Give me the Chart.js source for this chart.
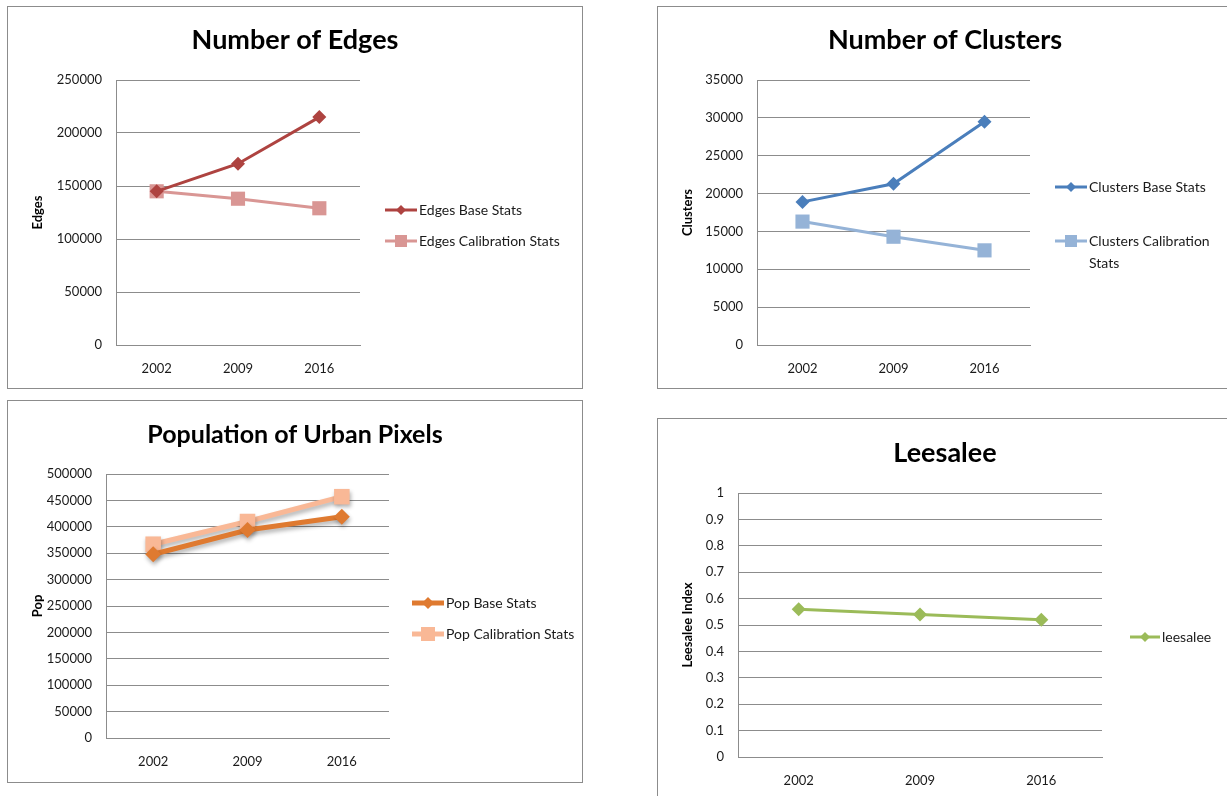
<!DOCTYPE html>
<html>
<head>
<meta charset="utf-8">
<script src="https://cdn.jsdelivr.net/npm/chart.js@4/dist/chart.umd.min.js"></script>
<style>
    html, body { margin: 0; padding: 0; background: #fff; overflow: hidden; }
    body { width: 1227px; height: 796px; position: relative; }
    .panel { position: absolute; width: 574px; height: 381px; border: 1px solid #8c8c8c; background: #fff; }
    .panel canvas { display: block; }
</style>
</head>
<body>
<div class="panel" style="left:7px; top:6px;"><canvas id="edges-chart" width="574" height="381"></canvas></div>
<div class="panel" style="left:657px; top:6px;"><canvas id="clusters-chart" width="574" height="381"></canvas></div>
<div class="panel" style="left:7px; top:400px;"><canvas id="pop-chart" width="574" height="381"></canvas></div>
<div class="panel" style="left:657px; top:418px;"><canvas id="leesalee-chart" width="574" height="381"></canvas></div>

<script>
// ===== Data =====
const years = ['2002', '2009', '2016'];

const edgesBase = [145000, 171000, 215000];
const edgesCalibration = [145000, 138000, 129000];

const clustersBase = [18900, 21300, 29500];
const clustersCalibration = [16300, 14300, 12500];

const popBase = [348000, 394000, 419000];
const popCalibration = [367000, 410000, 457000];

const leesaleeValues = [0.56, 0.54, 0.52];

const FONT = "Lato, 'Open Sans', sans-serif";
const GRID_COLOR = '#8c8c8c';

// Legend ala Excel: garis pendek + marker di tengah, teks di kanan
const excelLegend = {
    id: 'excelLegend',
    afterDraw(chart, args, opts) {
        const ctx = chart.ctx;
        ctx.save();
        chart.data.datasets.forEach((ds, i) => {
            const y = opts.ys[i];
            const x0 = opts.x;
            const x1 = opts.x + opts.lineLen;
            const cx = (x0 + x1) / 2;
            ctx.strokeStyle = ds.borderColor;
            ctx.lineWidth = ds.borderWidth;
            ctx.beginPath();
            ctx.moveTo(x0, y);
            ctx.lineTo(x1, y);
            ctx.stroke();

            // marker legend (sedikit lebih kecil dari marker data)
            ctx.fillStyle = ds.pointBackgroundColor;
            ctx.beginPath();
            const r = opts.markerRadius[i];
            if (ds.pointStyle === 'rect') {
                ctx.rect(cx - r, y - r, 2 * r, 2 * r);
            } else {
                ctx.moveTo(cx - r, y);
                ctx.lineTo(cx, y - r);
                ctx.lineTo(cx + r, y);
                ctx.lineTo(cx, y + r);
                ctx.closePath();
            }
            ctx.fill();

            ctx.fillStyle = '#1a1a1a';
            ctx.font = `14px ${FONT}`;
            ctx.textBaseline = 'middle';
            ctx.textAlign = 'left';
            opts.lines[i].forEach((txt, k) => {
                ctx.fillText(txt, x1 + 2, y + k * 22);
            });
        });
        ctx.restore();
    }
};

// Bayangan halus untuk chart populasi
const lineShadow = {
    id: 'lineShadow',
    beforeDatasetsDraw(chart, args, opts) {
        if (!opts.enabled) return;
        const ctx = chart.ctx;
        ctx.save();
        ctx.shadowColor = 'rgba(0, 0, 0, 0.3)';
        ctx.shadowBlur = 4;
        ctx.shadowOffsetX = 1;
        ctx.shadowOffsetY = 3;
    },
    afterDatasetsDraw(chart, args, opts) {
        if (!opts.enabled) return;
        chart.ctx.restore();
    }
};

function makeSeries(label, data, color, style, lineWidth, radius) {
    return {
        label: label,
        data: data,
        yAxisID: 'y',
        borderColor: color,
        backgroundColor: color,
        pointBackgroundColor: color,
        pointBorderColor: color,
        borderWidth: lineWidth,
        pointStyle: style,
        pointRadius: radius,
        pointBorderWidth: 0,
        tension: 0,
        fill: false
    };
}

function makeChart(id, cfg) {
    const W = 574, H = 381;
    const xAxisHeight = 32;
    const titleSize = cfg.titleSize || 27;
    const half = titleSize * 1.2 / 2;
    return new Chart(document.getElementById(id), {
        type: 'line',
        data: { labels: years, datasets: cfg.datasets },
        options: {
            responsive: false,
            animation: false,
            events: [],
            layout: {
                padding: { left: 0, top: 0, right: 0, bottom: H - cfg.area.bottom - xAxisHeight }
            },
            plugins: {
                legend: { display: false },
                tooltip: { enabled: false },
                title: {
                    display: true,
                    text: cfg.title,
                    color: '#000',
                    font: { family: FONT, size: titleSize, weight: 'bold', lineHeight: 1.2 },
                    padding: { top: cfg.titleCenter - half, bottom: cfg.area.top - cfg.titleCenter - half }
                },
                excelLegend: cfg.legend,
                lineShadow: { enabled: !!cfg.shadow }
            },
            scales: {
                x: {
                    offset: true,
                    grid: { display: false, drawTicks: false },
                    border: { display: true, color: GRID_COLOR, width: 1 },
                    ticks: { color: '#1a1a1a', padding: 16, font: { family: FONT, size: 13 } },
                    afterFit: (scale) => { scale.height = xAxisHeight; }
                },
                y: {
                    min: 0,
                    max: cfg.yMax,
                    ticks: {
                        stepSize: cfg.yStep,
                        color: '#1a1a1a',
                        padding: 14,
                        font: { family: FONT, size: 13 },
                        callback: cfg.tickFormat || ((v) => String(v))
                    },
                    grid: { color: GRID_COLOR, lineWidth: 1, drawTicks: false },
                    border: { display: true, color: GRID_COLOR, width: 1 },
                    title: {
                        display: true,
                        text: cfg.yTitle,
                        color: '#000',
                        font: { family: FONT, size: 13, weight: 'bold', lineHeight: 1.2 },
                        padding: { top: 22, bottom: 0 }
                    },
                    afterFit: (scale) => { scale.width = cfg.area.left; }
                },
                // ruang kosong di kanan untuk legend (judul tetap di tengah kanvas)
                legendSpace: {
                    position: 'right',
                    grid: { display: false, drawTicks: false },
                    border: { display: false },
                    ticks: { display: false },
                    afterFit: (scale) => { scale.width = W - cfg.area.right; }
                }
            }
        },
        plugins: [excelLegend, lineShadow]
    });
}

// Number of Edges
makeChart('edges-chart', {
    title: 'Number of Edges',
    titleCenter: 33,
    yTitle: 'Edges',
    yMax: 250000,
    yStep: 50000,
    area: { left: 108, right: 352, top: 73, bottom: 338 },
    datasets: [
        makeSeries('Edges Base Stats', edgesBase, '#AE4340', 'rectRot', 3, 7),
        makeSeries('Edges Calibration Stats', edgesCalibration, '#D99694', 'rect', 3, 10)
    ],
    legend: { x: 377, lineLen: 32, ys: [203, 234], markerRadius: [5, 6], lines: [['Edges Base Stats'], ['Edges Calibration Stats']] }
});

// Number of Clusters
makeChart('clusters-chart', {
    title: 'Number of Clusters',
    titleCenter: 33,
    yTitle: 'Clusters',
    yMax: 35000,
    yStep: 5000,
    area: { left: 99, right: 372, top: 73, bottom: 338 },
    datasets: [
        makeSeries('Clusters Base Stats', clustersBase, '#4A7EBB', 'rectRot', 3, 7),
        makeSeries('Clusters Calibration Stats', clustersCalibration, '#95B3D7', 'rect', 3, 10)
    ],
    legend: { x: 397, lineLen: 32, ys: [180, 234], markerRadius: [5, 6], lines: [['Clusters Base Stats'], ['Clusters Calibration', 'Stats']] }
});

// Population of Urban Pixels
makeChart('pop-chart', {
    title: 'Population of Urban Pixels',
    titleSize: 25,
    titleCenter: 34,
    yTitle: 'Pop',
    yMax: 500000,
    yStep: 50000,
    shadow: true,
    area: { left: 98, right: 381, top: 73, bottom: 337 },
    datasets: [
        makeSeries('Pop Base Stats', popBase, '#DF7A30', 'rectRot', 5, 8),
        makeSeries('Pop Calibration Stats', popCalibration, '#F9B896', 'rect', 5, 11)
    ],
    legend: { x: 404, lineLen: 32, ys: [202, 233], markerRadius: [6, 7], lines: [['Pop Base Stats'], ['Pop Calibration Stats']] }
});

// Leesalee
makeChart('leesalee-chart', {
    title: 'Leesalee',
    titleCenter: 34,
    yTitle: 'Leesalee Index',
    yMax: 1,
    yStep: 0.1,
    tickFormat: (v) => String(+v.toFixed(1)),
    area: { left: 80, right: 444, top: 74, bottom: 338 },
    datasets: [
        makeSeries('leesalee', leesaleeValues, '#9BBB59', 'rectRot', 3, 7)
    ],
    legend: { x: 472, lineLen: 30, ys: [218], markerRadius: [5], lines: [['leesalee']] }
});
</script>
</body>
</html>
